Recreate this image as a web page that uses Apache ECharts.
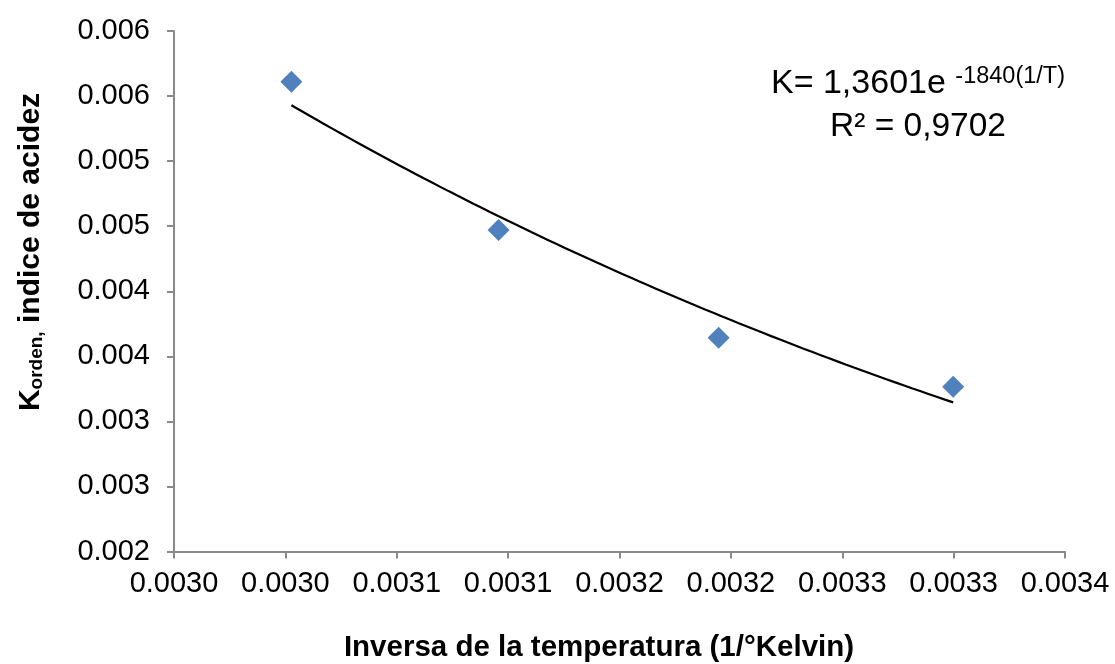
<!DOCTYPE html>
<html>
<head>
<meta charset="utf-8">
<script src="https://cdn.jsdelivr.net/npm/echarts@6/dist/echarts.min.js"></script>
<style>
html,body{margin:0;padding:0;background:#fff;}
#chart{width:1115px;height:664px;}
</style>
</head>
<body>
<div id="chart"></div>
<script>
// Data
const xValues = [0.0030527, 0.0031457, 0.0032445, 0.0033498];   // 1/T (1/K)
const yValues = [0.005610, 0.004471, 0.003643, 0.003266];       // K orden
const xTickLabels = ['0.0030','0.0030','0.0031','0.0031','0.0032','0.0032','0.0033','0.0033','0.0034'];
const yTickLabels = ['0.002','0.003','0.003','0.004','0.004','0.005','0.005','0.006','0.006'];
const xMin = 0.003, xMax = 0.0034, xStep = 0.00005;
const yMin = 0.002, yMax = 0.006, yStep = 0.0005;
const equationText = 'K= 1,3601e ';
const equationSup = '-1840(1/T)';
const r2Text = 'R² = 0,9702';

// exponential least-squares trendline (fit on ln y), as the spreadsheet does
function expFit(xs, ys) {
  const n = xs.length;
  const ly = ys.map(Math.log);
  const mx = xs.reduce((a, b) => a + b, 0) / n;
  const my = ly.reduce((a, b) => a + b, 0) / n;
  let sxy = 0, sxx = 0;
  for (let i = 0; i < n; i++) { sxy += (xs[i] - mx) * (ly[i] - my); sxx += (xs[i] - mx) ** 2; }
  const b = sxy / sxx;
  return { a: Math.exp(my - b * mx), b: b };
}
const fit = expFit(xValues, yValues);
const trend = [];
const x0 = Math.min(...xValues), x1 = Math.max(...xValues);
for (let i = 0; i <= 80; i++) {
  const x = x0 + (x1 - x0) * i / 80;
  trend.push([x, fit.a * Math.exp(fit.b * x)]);
}

const chart = echarts.init(document.getElementById('chart'), null, { renderer: 'canvas' });
const FONT = '"Liberation Sans", Arial, sans-serif';
const axisGrey = '#898989';

chart.setOption({
  animation: false,
  backgroundColor: '#ffffff',
  grid: { left: 174, right: 50, top: 31, bottom: 112.5, containLabel: false },
  xAxis: {
    type: 'value', min: xMin, max: xMax, interval: xStep,
    axisLine: { show: true, onZero: false, lineStyle: { color: axisGrey, width: 2 } },
    axisTick: { show: true, inside: false, length: 7, lineStyle: { color: axisGrey, width: 2 } },
    splitLine: { show: false },
    axisLabel: {
      color: '#000', fontFamily: FONT, fontSize: 29, margin: 18,
      showMinLabel: true, showMaxLabel: true,
      formatter: v => xTickLabels[Math.round((v - xMin) / xStep)]
    }
  },
  yAxis: {
    type: 'value', min: yMin, max: yMax, interval: yStep,
    axisLine: { show: true, lineStyle: { color: axisGrey, width: 2 } },
    axisTick: { show: true, inside: false, length: 7, lineStyle: { color: axisGrey, width: 2 } },
    splitLine: { show: false },
    axisLabel: {
      color: '#000', fontFamily: FONT, fontSize: 29, margin: 24,
      showMinLabel: true, showMaxLabel: true,
      formatter: v => yTickLabels[Math.round((v - yMin) / yStep)]
    }
  },
  series: [
    {
      type: 'line', data: trend, showSymbol: false, symbol: 'none', smooth: false,
      lineStyle: { color: '#000', width: 2.2 }, z: 2
    },
    {
      type: 'scatter', data: xValues.map((x, i) => [x, yValues[i]]),
      symbol: 'diamond', symbolSize: [22, 22],
      itemStyle: { color: '#4F81BD', opacity: 1 }, z: 3
    }
  ],
  graphic: [
    {
      type: 'text', x: 599, y: 648,
      style: {
        text: 'Inversa de la temperatura (1/°Kelvin)',
        font: 'bold 29.5px ' + FONT, fill: '#000', align: 'center', verticalAlign: 'middle'
      }
    },
    {
      type: 'text', x: 10, y: 252, rotation: Math.PI / 2,
      style: {
        text: '{k|K}{s|orden,}{n| indice de acidez}',
        align: 'center', verticalAlign: 'top',
        rich: {
          k: { font: 'bold 30px ' + FONT, fill: '#000', lineHeight: 36, verticalAlign: 'bottom' },
          s: { font: 'bold 19px ' + FONT, fill: '#000', lineHeight: 36, verticalAlign: 'bottom' },
          n: { font: 'bold 30px ' + FONT, fill: '#000', lineHeight: 36, verticalAlign: 'bottom' }
        }
      }
    },
    {
      type: 'text', x: 918, y: 84,
      style: {
        text: '{m|' + equationText + '}{p|' + equationSup + '}',
        align: 'center', verticalAlign: 'middle',
        rich: {
          m: { font: '34px ' + FONT, fill: '#000', lineHeight: 38, verticalAlign: 'middle' },
          p: { font: '23.5px ' + FONT, fill: '#000', lineHeight: 38, verticalAlign: 'top' }
        }
      }
    },
    {
      type: 'text', x: 918, y: 127,
      style: { text: r2Text, font: '33.5px ' + FONT, fill: '#000', align: 'center', verticalAlign: 'middle' }
    }
  ]
});
</script>
</body>
</html>
